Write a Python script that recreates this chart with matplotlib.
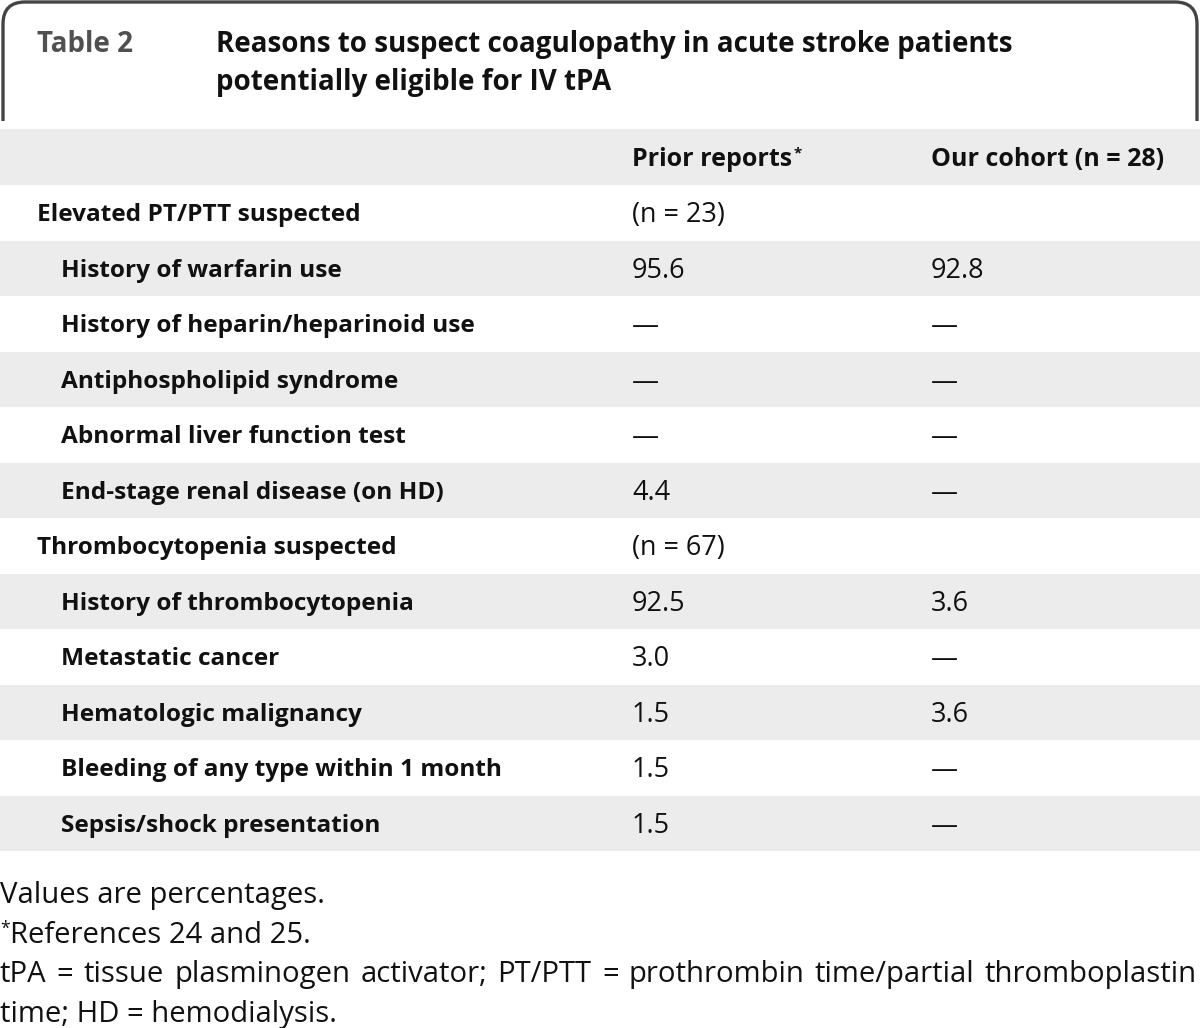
import matplotlib
matplotlib.use("Agg")
import matplotlib.pyplot as plt
from matplotlib.path import Path
from matplotlib.patches import PathPatch

plt.rcParams['font.family'] = ['Open Sans', 'DejaVu Sans']

# table content
table_no = "Table 2"
title_lines = ["Reasons to suspect coagulopathy in acute stroke patients",
               "potentially eligible for IV tPA"]
col_heads = ["Prior reports", "Our cohort (n = 28)"]
labels = ["Elevated PT/PTT suspected", "History of warfarin use",
          "History of heparin/heparinoid use", "Antiphospholipid syndrome",
          "Abnormal liver function test", "End-stage renal disease (on HD)",
          "Thrombocytopenia suspected", "History of thrombocytopenia",
          "Metastatic cancer", "Hematologic malignancy",
          "Bleeding of any type within 1 month", "Sepsis/shock presentation"]
indent = [0, 1, 1, 1, 1, 1, 0, 1, 1, 1, 1, 1]
prior = ["(n = 23)", "95.6", "—", "—", "—", "4.4",
         "(n = 67)", "92.5", "3.0", "1.5", "1.5", "1.5"]
cohort = ["", "92.8", "—", "—", "—", "—",
          "", "3.6", "—", "3.6", "—", "—"]
notes = ["Values are percentages.",
         "References 24 and 25.",
         "tPA = tissue plasminogen activator; PT/PTT = prothrombin time/partial thromboplastin",
         "time; HD = hemodialysis."]

W, H = 1200, 1028
fig = plt.figure(figsize=(W / 100, H / 100), dpi=100)
ax = fig.add_axes([0, 0, 1, 1])
ax.set_xlim(0, W)
ax.set_ylim(H, 0)
ax.axis('off')
rend = fig.canvas.get_renderer()


def fit(s, width, weight):
    # font size that makes string s about `width` px wide
    t = ax.text(0, 0, s, fontsize=20, fontweight=weight)
    w = t.get_window_extent(rend).width
    t.remove()
    return 20 * width / w


fs_title = fit(title_lines[0], 795, 'bold')
fs_lab = fit(labels[1], 280, 'bold')
fs_head = fit(col_heads[1], 233, 'bold')
fs_val = fit(prior[0], 93, 'normal')
fs_note = fit(notes[0], 323, 'normal')

stripe = '#ececec'
ink = '#111111'
dy = 2.5  # nudge text down a bit

# title frame, open at the bottom
r = 22
verts = [(3, 121), (3, 2 + r), (3, 2), (3 + r, 2), (W - 3 - r, 2), (W - 3, 2),
         (W - 3, 2 + r), (W - 3, 121)]
codes = [Path.MOVETO, Path.LINETO, Path.CURVE3, Path.CURVE3, Path.LINETO,
         Path.CURVE3, Path.CURVE3, Path.LINETO]
ax.add_patch(PathPatch(Path(verts, codes), fill=False, ec='#454545', lw=2.4))

ax.text(37, 42 + dy, table_no, fontsize=fs_title, fontweight='bold', color='#505050', va='center')
for i, line in enumerate(title_lines):
    ax.text(216, 42 + dy + i * 38, line, fontsize=fs_title, fontweight='bold', color=ink, va='center')

# header row
head_top, head_bot = 129, 185
ax.axhspan(head_top, head_bot, color=stripe, lw=0)
x_lab, x_sub, x_c1, x_c2 = 37, 61, 632, 931
hy = (head_top + head_bot) / 2 + dy
t = ax.text(x_c1, hy, col_heads[0], fontsize=fs_head, fontweight='bold', color=ink, va='center')
ax.text(x_c2, hy, col_heads[1], fontsize=fs_head, fontweight='bold', color=ink, va='center')
bb = t.get_window_extent(rend)
ax.text(bb.x1 + 1, hy - 6, "*", fontsize=fs_head * 0.6, fontweight='bold', color=ink, va='center')

# body rows
row_h = 55.5
for i, lab in enumerate(labels):
    top = head_bot + i * row_h
    if i % 2 == 1:
        ax.axhspan(top, top + row_h, color=stripe, lw=0)
    cy = top + row_h / 2 + dy
    ax.text(x_sub if indent[i] else x_lab, cy, lab, fontsize=fs_lab, fontweight='bold',
            color=ink, va='center')
    ax.text(x_c1, cy, prior[i], fontsize=fs_val, color=ink, va='center')
    ax.text(x_c2, cy, cohort[i], fontsize=fs_val, color=ink, va='center')

# footnotes
note_y = [y + dy for y in (893, 933, 972, 1012)]
ax.text(0, note_y[0], notes[0], fontsize=fs_note, color=ink, va='center')
star = ax.text(0, note_y[1] - 7, "*", fontsize=fs_note * 0.6, color=ink, va='center')
ax.text(star.get_window_extent(rend).x1, note_y[1], notes[1], fontsize=fs_note,
        color=ink, va='center')

# justified line
words = notes[2].split(" ")
arts = [ax.text(0, note_y[2], w, fontsize=fs_note, color=ink, va='center') for w in words]
widths = [a.get_window_extent(rend).width for a in arts]
gap = (W - 3 - sum(widths)) / (len(words) - 1)
x = 0
for a, w in zip(arts, widths):
    a.set_x(x)
    x += w + gap
ax.text(0, note_y[3], notes[3], fontsize=fs_note, color=ink, va='center')

fig.savefig("out.png", dpi=100)
